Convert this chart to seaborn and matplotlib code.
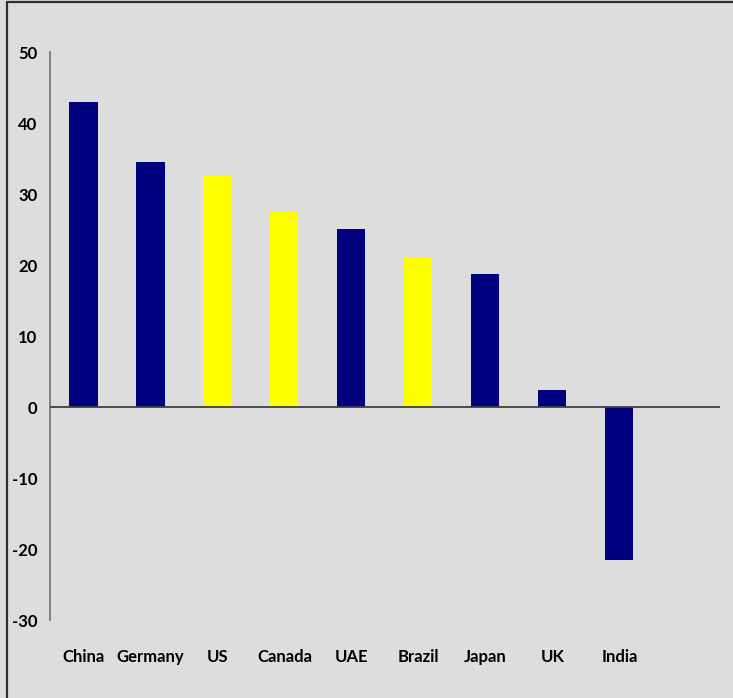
import pandas as pd
import matplotlib.pyplot as plt
import seaborn as sns
from matplotlib.lines import Line2D

countries = ['China', 'Germany', 'US', 'Canada', 'UAE', 'Brazil', 'Japan', 'UK', 'India']
values = [43.0, 34.5, 32.5, 27.5, 25.1, 21.0, 18.7, 2.4, -21.6]
groups = ['a', 'a', 'b', 'b', 'a', 'b', 'a', 'a', 'a']

df = pd.DataFrame({'Country': countries, 'Value': values, 'Group': groups})

sns.set_style('white')
plt.rcParams['font.family'] = ['Lato', 'DejaVu Sans']
plt.rcParams['axes.unicode_minus'] = False

fig = plt.figure(figsize=(7.33, 6.98), dpi=100, facecolor='#dddddd')
ax = fig.add_axes([0.0682, 0.1117, 0.9138, 0.8138])
ax.set_facecolor('#dddddd')

sns.barplot(data=df, x='Country', y='Value', hue='Group',
            palette={'a': '#000080', 'b': '#ffff00'}, dodge=False,
            width=0.42, legend=False, saturation=1, linewidth=0, ax=ax)

ax.set_xlim(-0.5, 9.5)
ax.set_ylim(-30, 50)
ax.set_yticks(range(-30, 51, 10))
ax.axhline(0, color='#404040', lw=1.3, zorder=3)

for s in ['top', 'right', 'bottom']:
    ax.spines[s].set_visible(False)
ax.spines['left'].set_color('#707070')
ax.spines['left'].set_linewidth(1.2)

ax.set_xlabel('')
ax.set_ylabel('')
ax.tick_params(axis='both', length=0, colors='black')
ax.tick_params(axis='x', pad=21)
ax.tick_params(axis='y', pad=9)
for lab in ax.get_xticklabels() + ax.get_yticklabels():
    lab.set_fontweight('bold')
    lab.set_fontsize(12)

# figure border
fig.add_artist(Line2D([0.0095, 0.0095], [0, 0.997], color='#303030', lw=1.6, transform=fig.transFigure))
fig.add_artist(Line2D([0.0095, 1], [0.997, 0.997], color='#303030', lw=1.6, transform=fig.transFigure))

fig.savefig('out.png', dpi=100, facecolor='#dddddd')
